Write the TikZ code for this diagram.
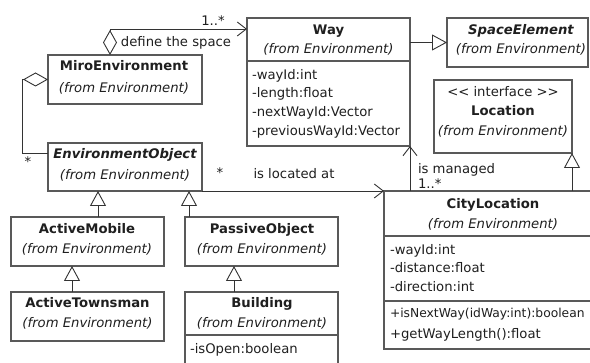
\documentclass[tikz,border=0pt]{standalone}
\usepackage{fontspec}
\setmainfont{DejaVu Sans}
\usetikzlibrary{arrows.meta,calc}
\tikzset{
  every node/.style={inner sep=0pt, outer sep=0pt, text=black!88},
  cls/.style={draw=black!65, line width=1.3pt, fill=white, rectangle, anchor=north west},
  ttl/.style={anchor=base, font=\fontsize{13.2}{16}\selectfont\bfseries},
  attl/.style={anchor=base, font=\fontsize{13.2}{16}\selectfont\bfseries\itshape},
  pkg/.style={anchor=base, font=\fontsize{13.2}{16}\selectfont\itshape},
  attr/.style={anchor=base west, font=\fontsize{13.2}{16}\selectfont},
  lbl/.style={anchor=base, font=\fontsize{13.2}{16}\selectfont},
  lbll/.style={anchor=base west, font=\fontsize{13.2}{16}\selectfont},
  sepline/.style={draw=black!65, line width=1.1pt},
  link/.style={draw=black!80, line width=0.9pt},
  gen/.style={link, -{Triangle[length=15pt,width=16pt,fill=white]}},
  nav/.style={link, -{Straight Barb[length=9pt,width=14pt]}},
  agg/.style={link, {Diamond[length=25pt,width=14pt,fill=white]}-{Straight Barb[length=9pt,width=14pt]}},
  aggplain/.style={link, {Diamond[length=25pt,width=14pt,fill=white]}-},
}
\begin{document}
\begin{tikzpicture}[x=1pt,y=-1pt]
\useasboundingbox (0,0) rectangle (590,363);
\clip (0,0) rectangle (590,363);
\fill[white] (0,0) rectangle (590,363);

% class boxes
\node[cls, minimum width=163pt, minimum height=128pt] (way) at (247,18) {};
\node[cls, minimum width=141pt, minimum height=49pt] (se) at (447,18) {};
\node[cls, minimum width=138pt, minimum height=73pt] (loc) at (434,80) {};
\node[cls, minimum width=154pt, minimum height=49pt] (miro) at (48,55) {};
\node[cls, minimum width=154pt, minimum height=48pt] (envobj) at (48,143) {};
\node[cls, minimum width=220pt, minimum height=158pt] (city) at (384,191) {};
\node[cls, minimum width=153pt, minimum height=49pt] (am) at (11,217) {};
\node[cls, minimum width=153pt, minimum height=49pt] (po) at (185,217) {};
\node[cls, minimum width=153pt, minimum height=49pt] (at) at (11,292) {};
\node[cls, minimum width=153pt, minimum height=90pt] (bld) at (185,292) {};

% compartment separators
\draw[sepline] ($(way.north west)+(0,43)$) -- ($(way.north east)+(0,43)$);
\draw[sepline] ($(city.north west)+(0,45)$) -- ($(city.north east)+(0,45)$);
\draw[sepline] ($(city.north west)+(0,110)$) -- ($(city.north east)+(0,110)$);
\draw[sepline] ($(bld.north west)+(0,43)$) -- ($(bld.north east)+(0,43)$);

% Way
\node[ttl] (way-n) at (328.5,35) {Way};
\node[pkg] (way-p) at (328.5,53.5) {(from Environment)};
\node[attr] (way-a1) at (252,79.5) {-wayId:int};
\node[attr] (way-a2) at (252,98) {-length:float};
\node[attr] (way-a3) at (252,116.5) {-nextWayId:Vector};
\node[attr] (way-a4) at (252,135.5) {-previousWayId:Vector};

% SpaceElement
\node[attl] (se-n) at (521,35) {SpaceElement};
\node[pkg] (se-p) at (521,53.5) {(from Environment)};

% Location
\node[lbl] (loc-s) at (503,96.5) {<{}< interface >{}>};
\node[ttl] (loc-n) at (503,115.5) {Location};
\node[pkg] (loc-p) at (503,135.5) {(from Environment)};

% MiroEnvironment
\node[ttl] (miro-n) at (124,70.5) {MiroEnvironment};
\node[pkg] (miro-p) at (124,92.5) {(from Environment)};

% EnvironmentObject
\node[attl] (env-n) at (125,158.5) {EnvironmentObject};
\node[pkg] (env-p) at (125,179.5) {(from Environment)};

% CityLocation
\node[ttl] (city-n) at (493,208.5) {CityLocation};
\node[pkg] (city-p) at (493,228.5) {(from Environment)};
\node[attr] (city-a1) at (390,254.5) {-wayId:int};
\node[attr] (city-a2) at (390,273) {-distance:float};
\node[attr] (city-a3) at (390,291.5) {-direction:int};
\node[attr, font=\fontsize{12.3}{16}\selectfont] (city-m1) at (390,317.5) {+isNextWay(idWay:int):boolean};
\node[attr] (city-m2) at (390,338.5) {+getWayLength():float};

% ActiveMobile, PassiveObject, ActiveTownsman, Building
\node[ttl] (am-n) at (87,233.5) {ActiveMobile};
\node[pkg] (am-p) at (87,253.5) {(from Environment)};
\node[ttl] (po-n) at (262,233.5) {PassiveObject};
\node[pkg] (po-p) at (262,253.5) {(from Environment)};
\node[ttl] (at-n) at (87.5,308) {ActiveTownsman};
\node[pkg] (at-p) at (87.5,328) {(from Environment)};
\node[ttl] (bld-n) at (262,308) {Building};
\node[pkg] (bld-p) at (262,328) {(from Environment)};
\node[attr] (bld-a1) at (190,354) {-isOpen:boolean};

% associations
\draw[agg] ($(miro.north west)+(62,0)$) |- ($(way.north west)+(0,11)$);
\node[lbl] (m-way) at (213,25.5) {1..*};
\node[lbl] (l-space) at (176,46.5) {define the space};

\draw[aggplain] (miro.west) -- ++(-26,0) |- ($(envobj.north west)+(0,10)$);
\node[lbl] (m-env) at (28,167) {*};

\draw[nav] (envobj.south east) -- (city.north west);
\node[lbl] (m-loc) at (220,178) {*};
\node[lbl] (l-loc) at (294,178.5) {is located at};

\draw[nav] (city.north -| way.south east) -- (way.south east);
\node[lbll] (l-man) at (418,174) {is managed};
\node[lbll] (m-man) at (418,189) {1..*};

% generalizations
\draw[gen] (se.west -| way.east) -- (se.west);
\draw[gen] (city.north -| loc.south east) -- (loc.south east);
\draw[gen] ($(am.north west)+(87,0)$) -- ($(envobj.south west)+(50,0)$);
\draw[gen] ($(po.north west)+(4,0)$) -- ($(envobj.south west)+(141,0)$);
\draw[gen] ($(at.north west)+(61,0)$) -- ($(am.south west)+(61,0)$);
\draw[gen] ($(bld.north west)+(49,0)$) -- ($(po.south west)+(49,0)$);
\end{tikzpicture}
\end{document}
